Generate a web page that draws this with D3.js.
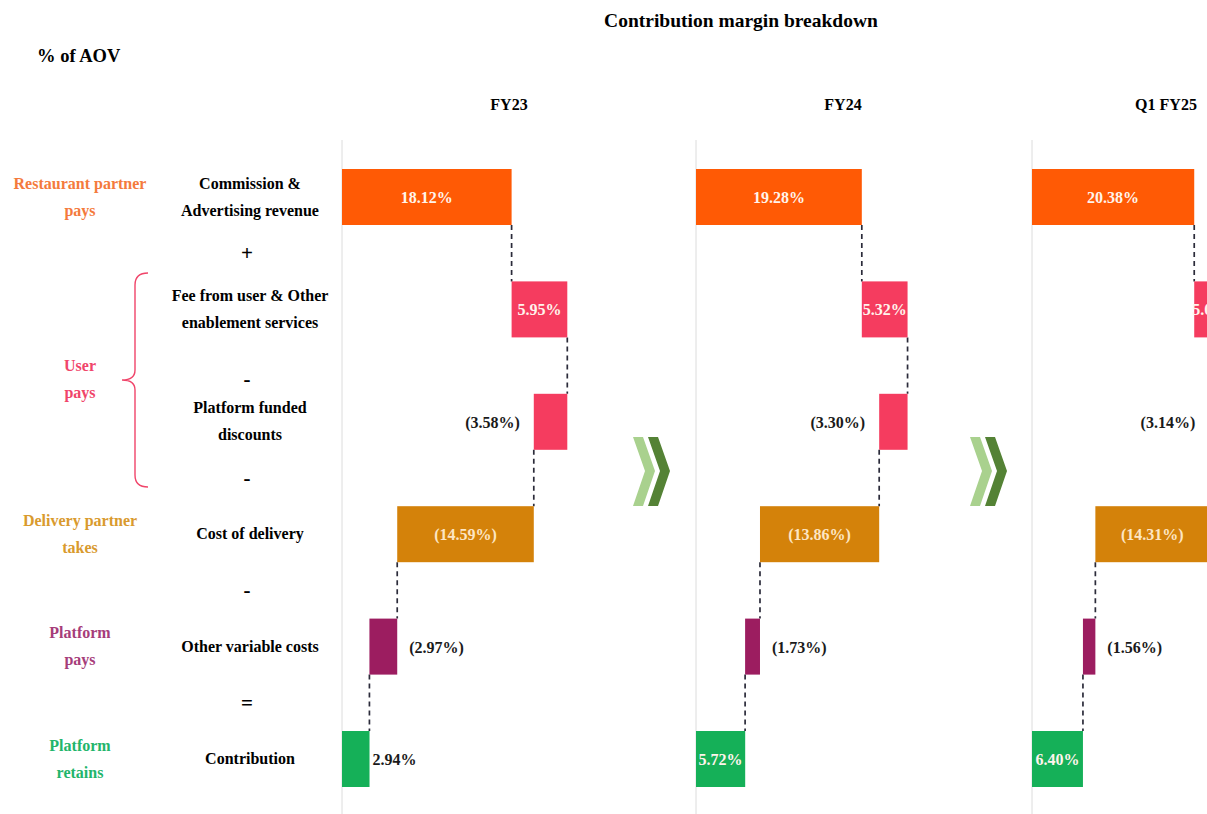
<!DOCTYPE html>
<html>
<head>
<meta charset="utf-8">
<script src="https://cdn.jsdelivr.net/npm/d3@7"></script>
<style>
  body { margin: 0; background: #fff; }
  svg { display: block; font-family: "Liberation Serif", "Times New Roman", serif; font-weight: bold; }
</style>
</head>
<body>
<svg width="1207" height="814"></svg>
<script>
// data (% of AOV)
const periods = ["FY23", "FY24", "Q1 FY25"];
const rowNames = ["Commission & Advertising revenue", "Fee from user & Other enablement services",
    "Platform funded discounts", "Cost of delivery", "Other variable costs", "Contribution"];
const rowLines = [["Commission &", "Advertising revenue"], ["Fee from user & Other", "enablement services"],
    ["Platform funded", "discounts"], ["Cost of delivery"], ["Other variable costs"], ["Contribution"]];
const groupLines = [["Restaurant partner", "pays"], null, null, ["Delivery partner", "takes"],
    ["Platform", "pays"], ["Platform", "retains"]];
const operators = ["+", "-", "-", "-", "="];

const commission = [18.12, 19.28, 20.38];
const userFees = [5.95, 5.32, 5.03];
const discounts = [-3.58, -3.30, -3.14];
const delivery = [-14.59, -13.86, -14.31];
const otherCosts = [-2.97, -1.73, -1.56];
const contribution = [2.94, 5.72, 6.40];

const colors = ["#ff5a05", "#f53c5f", "#f53c5f", "#d4820a", "#9c1d60", "#15b058"];
const groupColors = ["#f47a3c", "#f0456a", "#f0456a", "#d99a2e", "#a63d7a", "#22b56b"];

let svg = d3.select("svg");

// each panel has its own scale in the original slide
const panels = [
    { x0: 342, w: 234, head: 509 },
    { x0: 696, w: 215, head: 843 },
    { x0: 1032, w: 199, head: 1166 }
];

let y = d3.scalePoint().domain(rowNames).range([197, 759]);
const barH = 56;

// titles
svg.append("text").attr("x", 741).attr("y", 27).attr("text-anchor", "middle")
    .style("font-size", "19.5px").text("Contribution margin breakdown");
svg.append("text").attr("x", 37).attr("y", 62).style("font-size", "18.5px").text("% of AOV");

// row labels
rowLines.forEach(function(lines, i) {
    let t = svg.append("text").attr("x", 250).attr("text-anchor", "middle").style("font-size", "16px");
    let top = y(rowNames[i]) - (lines.length - 1) * 13.5 + 5;
    lines.forEach(function(l, j) {
        t.append("tspan").attr("x", 250).attr("y", top + j * 27).text(l);
    });
});

// operators between rows
operators.forEach(function(op, i) {
    let mid = (y(rowNames[i]) + y(rowNames[i + 1])) / 2 + (i === 1 ? 13 : 0);
    svg.append("text").attr("x", 247).attr("y", mid + 7).attr("text-anchor", "middle")
        .style("font-size", "21px").text(op);
});

// group labels on the left
groupLines.forEach(function(lines, i) {
    if (!lines) return;
    let t = svg.append("text").attr("text-anchor", "middle").attr("fill", groupColors[i])
        .style("font-size", "16px");
    let top = y(rowNames[i]) - 13.5 + 5;
    lines.forEach(function(l, j) {
        t.append("tspan").attr("x", 80).attr("y", top + j * 27).text(l);
    });
});
svg.append("text").attr("text-anchor", "middle").attr("fill", groupColors[1]).style("font-size", "16px")
    .selectAll("tspan").data(["User", "pays"]).enter().append("tspan")
    .attr("x", 80).attr("y", function(d, j) { return 371 + j * 27; }).text(function(d) { return d; });

// curly brace for "User pays"
svg.append("path")
    .attr("d", "M148,273 Q135,273 135,285 L135,370 Q135,380 122,380 Q135,380 135,390 L135,475 Q135,487 148,487")
    .attr("fill", "none").attr("stroke", "#f0456a").attr("stroke-width", 1.4);

// chevrons between panels
[633, 970].forEach(function(cx) {
    [["#a9d18e", 0], ["#548235", 15]].forEach(function(c) {
        let x = cx + c[1];
        svg.append("path")
            .attr("d", "M" + x + ",437 L" + (x + 10) + ",437 L" + (x + 22) + ",471 L" + (x + 10) + ",506 L" + x + ",506 L" + (x + 12) + ",471 Z")
            .attr("fill", c[0]);
    });
});

function fmt(v) {
    let s = Math.abs(v).toFixed(2) + "%";
    return v < 0 ? "(" + s + ")" : s;
}

periods.forEach(function(p, k) {
    let pan = panels[k];
    let x = d3.scaleLinear().domain([0, 25]).range([pan.x0, pan.x0 + pan.w]);
    let g = svg.append("g");

    g.append("line").attr("x1", pan.x0).attr("x2", pan.x0).attr("y1", 140).attr("y2", 814)
        .attr("stroke", "#dcdcdc").attr("stroke-width", 1);

    svg.append("text").attr("x", pan.head).attr("y", 110).attr("text-anchor", "middle")
        .style("font-size", "16px").text(p);

    let vals = [commission[k], userFees[k], discounts[k], delivery[k], otherCosts[k], contribution[k]];
    let cum = 0;
    let bars = vals.map(function(v, i) {
        let a, b;
        if (i === vals.length - 1) { a = 0; b = v; }
        else { a = cum; b = cum + v; cum = b; }
        return { name: rowNames[i], v: v, lo: Math.min(a, b), hi: Math.max(a, b), end: b, i: i };
    });

    // dashed connectors
    bars.slice(0, -1).forEach(function(d, i) {
        let nx = bars[i + 1];
        g.append("line")
            .attr("x1", x(d.end)).attr("x2", x(d.end))
            .attr("y1", y(d.name) + barH / 2).attr("y2", y(nx.name) - barH / 2)
            .attr("stroke", "#2b2b3a").attr("stroke-width", 1.7).attr("stroke-dasharray", "5,4");
    });

    g.selectAll("rect").data(bars).enter().append("rect")
        .attr("x", function(d) { return x(d.lo); })
        .attr("y", function(d) { return y(d.name) - barH / 2; })
        .attr("width", function(d) { return x(d.hi) - x(d.lo); })
        .attr("height", barH)
        .attr("fill", function(d) { return colors[d.i]; });

    g.selectAll(".val").data(bars).enter().append("text")
        .attr("class", "val")
        .style("font-size", "16px")
        .attr("y", function(d) { return y(d.name) + 6; })
        .each(function(d) {
            let w = x(d.hi) - x(d.lo);
            let t = d3.select(this).text(fmt(d.v));
            if (w > 38) {
                t.attr("x", (x(d.lo) + x(d.hi)) / 2).attr("text-anchor", "middle")
                    .attr("fill", d.i === 3 ? "#fde6c4" : "#fff4ec");
            } else if (d.i === 2) {
                t.attr("x", x(d.lo) - 14).attr("text-anchor", "end").attr("fill", "#1a1a1a");
            } else {
                t.attr("x", x(d.hi) + (d.i === 5 ? 3 : 12)).attr("text-anchor", "start").attr("fill", "#1a1a1a");
            }
        });
});
</script>
</body>
</html>
